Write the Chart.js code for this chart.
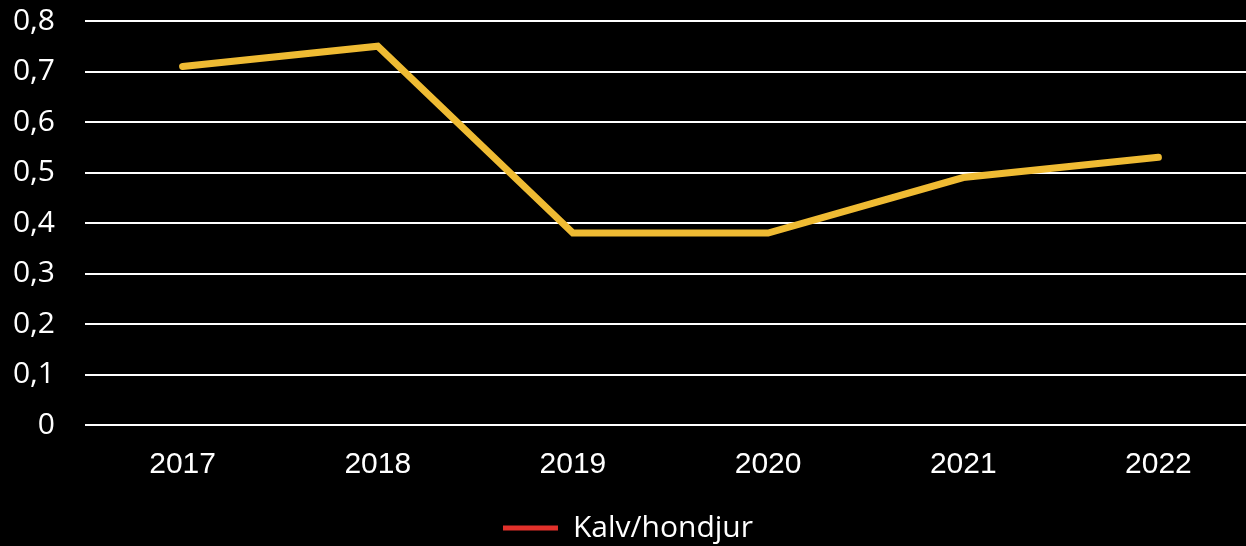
<!DOCTYPE html>
<html>
<head>
<meta charset="utf-8">
<script src="https://cdn.jsdelivr.net/npm/chart.js@4"></script>
<style>
  html, body { margin: 0; padding: 0; background: #000; overflow: hidden; }
  #wrap { width: 1256px; height: 573px; position: absolute; left: 0; top: -27px; }
</style>
</head>
<body>
<div id="wrap"><canvas id="c" width="1256" height="573"></canvas></div>
<script>
const categories = ['2017', '2018', '2019', '2020', '2021', '2022'];
const seriesName = 'Kalv/hondjur';
const seriesValues = [0.71, 0.75, 0.38, 0.38, 0.49, 0.53];
const yTicks = [0, 0.1, 0.2, 0.3, 0.4, 0.5, 0.6, 0.7, 0.8];

const lineColor = '#EFBB33';
const legendColor = '#E2312B';

new Chart(document.getElementById('c'), {
  type: 'line',
  data: {
    labels: categories,
    datasets: [{
      label: seriesName,
      data: seriesValues,
      borderColor: lineColor,
      backgroundColor: legendColor,
      borderWidth: 7,
      pointRadius: 0,
      tension: 0,
      borderCapStyle: 'round',
      borderJoinStyle: 'miter'
    }]
  },
  options: {
    responsive: false,
    animation: false,
    layout: { padding: { top: 0, right: 0, left: 0, bottom: -7 } },
    plugins: {
      tooltip: { enabled: false },
      legend: {
        position: 'bottom',
        labels: {
          color: '#ffffff',
          font: { family: 'Open Sans', size: 30 },
          boxWidth: 55,
          boxHeight: 5,
          padding: 8,
          generateLabels: (chart) => chart.data.datasets.map((ds, i) => ({
            text: ds.label,
            fillStyle: legendColor,
            strokeStyle: legendColor,
            lineWidth: 0,
            fontColor: '#ffffff',
            datasetIndex: i
          }))
        }
      }
    },
    scales: {
      x: {
        offset: true,
        grid: { display: false, drawTicks: false, offset: true },
        border: { display: false },
        ticks: {
          color: '#ffffff',
          font: { family: 'Liberation Sans', size: 30 },
          padding: 22,
          maxRotation: 0
        }
      },
      y: {
        min: 0,
        max: 0.8,
        afterBuildTicks: (scale) => { scale.ticks = yTicks.map(v => ({ value: v })); },
        afterFit: (scale) => { scale.width = 85; },
        grid: { color: '#ffffff', lineWidth: 2, drawTicks: false },
        border: { display: false },
        ticks: {
          color: '#ffffff',
          font: { family: 'Open Sans', size: 30 },
          padding: 30,
          callback: (v) => String(v).replace('.', ',')
        }
      }
    }
  }
});
</script>
</body>
</html>
